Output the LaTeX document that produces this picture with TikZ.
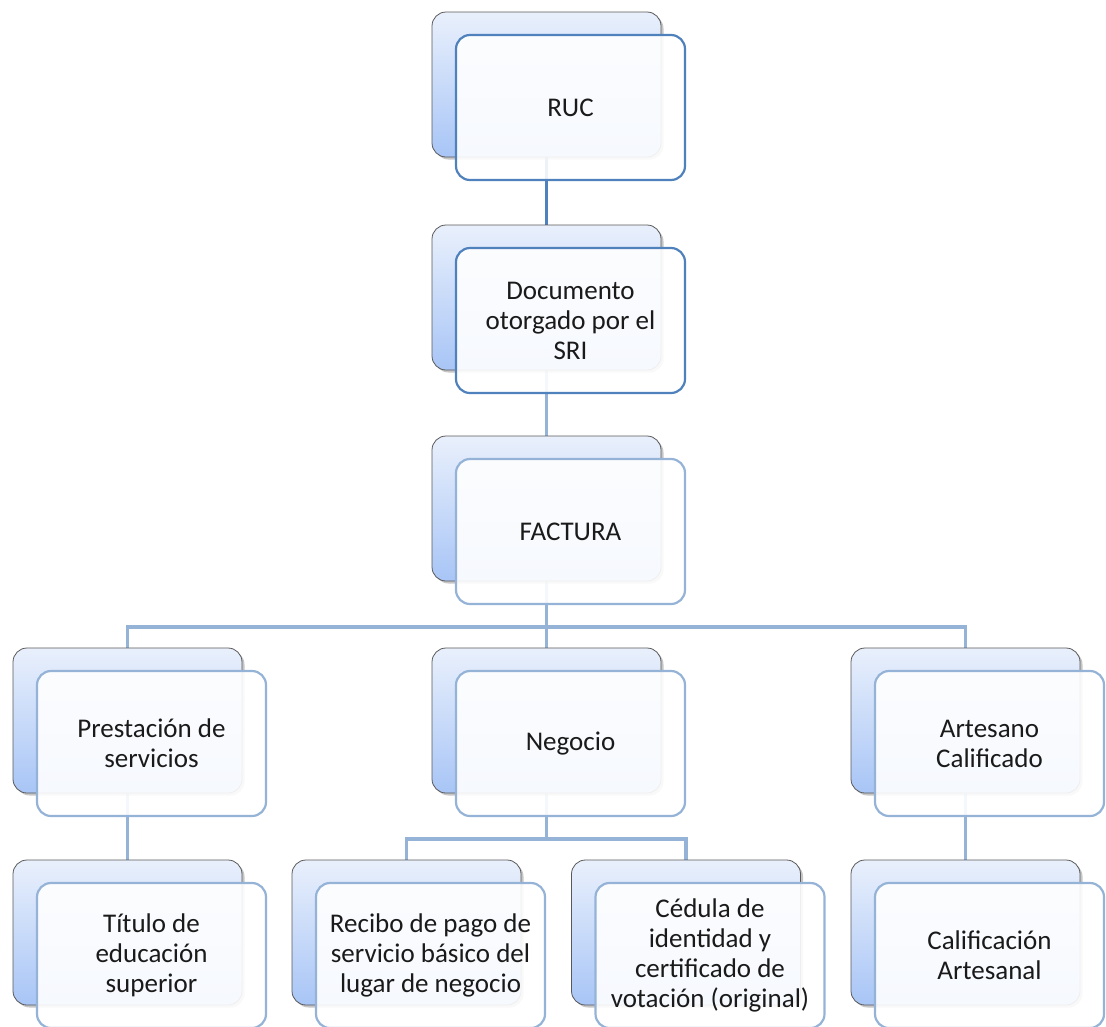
\documentclass[tikz,border=0pt]{standalone}
\usepackage{fontspec}
\setmainfont{Carlito}
\usepackage{tikz}
\usetikzlibrary{positioning, shadows}
\definecolor{accent}{HTML}{4F81BD}
\definecolor{accentlight}{HTML}{95B3D7}
\definecolor{backtop}{HTML}{E9F0FC}
\definecolor{backbot}{HTML}{A8C5F6}
\definecolor{ink}{HTML}{1A1A1A}
\pgfdeclarelayer{background}
\pgfsetlayers{background,main}

\begin{document}
\begin{tikzpicture}[
  x=1pt, y=-1pt,
  back/.style={rectangle, rounded corners=14pt, draw=gray!70!black, line width=0.8pt,
               top color=backtop, bottom color=backbot,
               minimum width=229pt, minimum height=145pt, outer sep=0pt,
               drop shadow={opacity=0.45, shadow xshift=2.5pt, shadow yshift=-2.5pt}},
  front/.style={rectangle, rounded corners=14pt, draw=accentlight, line width=2.2pt,
                fill=white, fill opacity=0.9, text opacity=1, text=ink,
                minimum width=229pt, minimum height=145pt, outer sep=0pt,
                align=center, font=\fontsize{27}{30}\selectfont},
  dark/.style={draw=accent},
  link/.style={line width=3.8pt, draw=accentlight},
  node distance=68pt and 190pt
]
  \useasboundingbox (0,0) rectangle (1106,1026);

  % main column
  \node[back] (ruc-b) at (546.5,84.5) {};
  \node[front, dark] (ruc) at ([shift={(24,23)}]ruc-b.center) {RUC};
  \node[back, below=68pt of ruc-b] (doc-b) {};
  \node[front, dark] (doc) at ([shift={(24,23)}]doc-b.center) {Documento\\otorgado por el\\SRI};
  \node[back, below=66pt of doc-b] (fac-b) {};
  \node[front] (fac) at ([shift={(24,23)}]fac-b.center) {FACTURA};

  % second level
  \node[back, below=67pt of fac-b] (neg-b) {};
  \node[front] (neg) at ([shift={(24,23)}]neg-b.center) {Negocio};
  \node[back, left=of neg-b] (pre-b) {};
  \node[front] (pre) at ([shift={(24,23)}]pre-b.center) {Prestación de\\servicios};
  \node[back, right=of neg-b] (art-b) {};
  \node[front] (art) at ([shift={(24,23)}]art-b.center) {Artesano\\Calificado};

  % third level
  \node[back, below=67pt of pre-b] (tit-b) {};
  \node[front] (tit) at ([shift={(24,23)}]tit-b.center) {Título de\\educación\\superior};
  \node[back, below=67pt of art-b] (cal-b) {};
  \node[front] (cal) at ([shift={(24,23)}]cal-b.center) {Calificación\\Artesanal};
  \node[back, below=67pt of neg-b, xshift=-140pt] (rec-b) {};
  \node[front] (rec) at ([shift={(24,23)}]rec-b.center) {Recibo de pago de\\servicio básico del\\lugar de negocio};
  \node[back, below=67pt of neg-b, xshift=139.5pt] (ced-b) {};
  \node[front] (ced) at ([shift={(24,23)}]ced-b.center) {Cédula de\\identidad y\\certificado de\\votación (original)};

  \begin{pgfonlayer}{background}
    \draw[link, draw=accent] (ruc-b.south) -- (doc-b.north);
    \draw[link] (doc-b.south) -- (fac-b.north);
    \draw[link] (fac-b.south) -- ++(0,46) -| (pre-b.north);
    \draw[link] (fac-b.south) -- ++(0,46) -| (art-b.north);
    \draw[link] (fac-b.south) -- (neg-b.north);
    \draw[link] (pre-b.south) -- (tit-b.north);
    \draw[link] (art-b.south) -- (cal-b.north);
    \draw[link] (neg-b.south) -- ++(0,46) -| (rec-b.north);
    \draw[link] (neg-b.south) -- ++(0,46) -| (ced-b.north);
  \end{pgfonlayer}
\end{tikzpicture}
\end{document}
